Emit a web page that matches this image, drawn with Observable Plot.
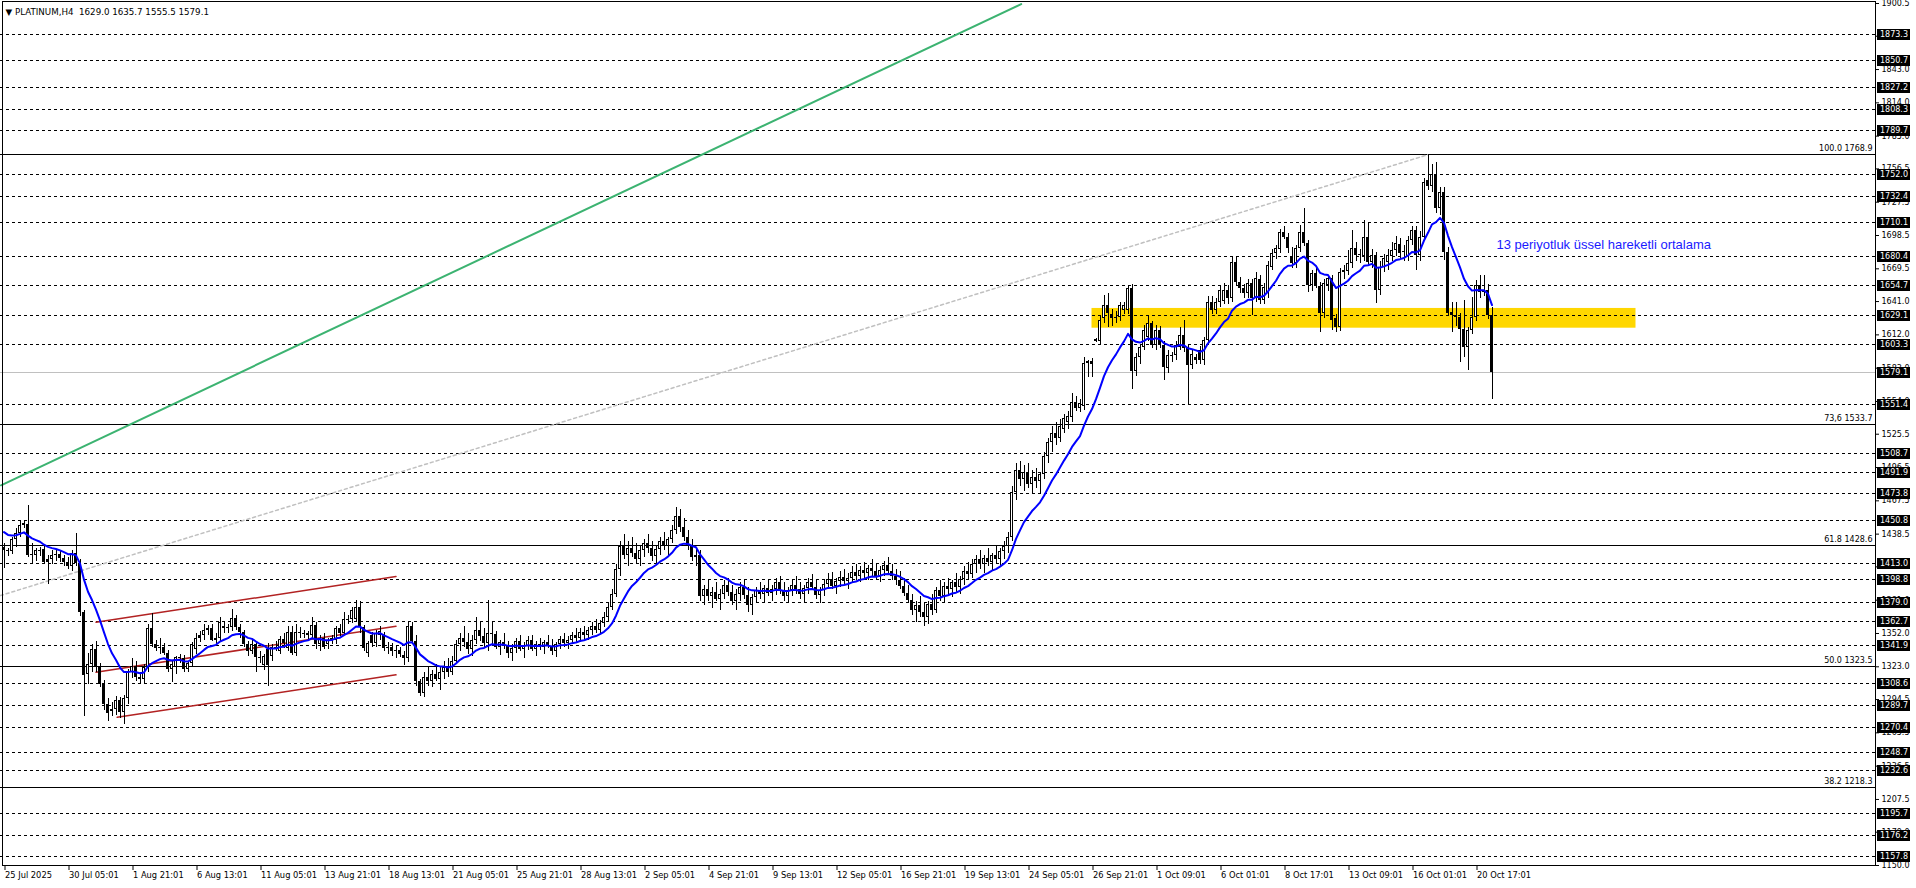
<!DOCTYPE html>
<html><head><meta charset="utf-8">
<script src="https://cdn.jsdelivr.net/npm/d3@7"></script>
<script src="https://cdn.jsdelivr.net/npm/@observablehq/plot@0.6"></script>
<style>
html,body{margin:0;padding:0;background:#fff;overflow:hidden;}
#chart svg{display:block;}
</style></head><body><div id="chart"></div>
<script>
const symbolTitle = "\u25BC PLATINUM,H4  1629.0 1635.7 1555.5 1579.1";

// H4 candles, [open, high, low, close], bar 0 = 25 Jul 2025 13:01
const ohlc = [
/*0*/ [1427,1430,1409,1424],[1424,1426,1419,1423],[1423,1436,1421,1434],[1434,1443,1427,1439],[1439,1450,1436,1446],
/*5*/ [1446,1450,1443,1448],[1447,1463,1418,1420],[1420,1430,1413,1421],[1420,1426,1415,1424],[1424,1427,1419,1423],
/*10*/ [1425,1428,1412,1414],[1414,1420,1395,1416],[1416,1424,1412,1420],[1420,1425,1415,1421],[1421,1424,1414,1417],
/*15*/ [1417,1420,1410,1414],[1414,1418,1408,1410],[1410,1424,1406,1422],[1422,1439,1410,1413],[1413,1416,1367,1370],
/*20*/ [1370,1372,1280,1315],[1316,1335,1308,1325],[1325,1342,1318,1338],[1338,1345,1318,1322],[1322,1326,1305,1308],
/*25*/ [1308,1311,1285,1290],[1290,1295,1275,1282],[1284,1292,1280,1286],[1286,1297,1281,1294],[1294,1296,1278,1283],
/*30*/ [1283,1298,1273,1295],[1295,1321,1290,1318],[1318,1330,1313,1323],[1323,1328,1310,1314],[1314,1318,1308,1312],
/*35*/ [1312,1325,1308,1322],[1322,1360,1318,1356],[1356,1369,1340,1342],[1342,1346,1336,1339],[1339,1348,1334,1340],
/*40*/ [1340,1343,1333,1335],[1335,1337,1318,1321],[1321,1328,1309,1325],[1322,1332,1316,1331],[1331,1334,1326,1330],
/*45*/ [1330,1333,1318,1321],[1321,1328,1318,1326],[1326,1344,1323,1342],[1338,1352,1334,1348],[1348,1354,1344,1350],
/*50*/ [1350,1360,1346,1355],[1355,1359,1350,1356],[1356,1360,1345,1346],[1346,1352,1342,1348],[1348,1366,1344,1362],
/*55*/ [1358,1362,1352,1356],[1356,1360,1352,1357],[1357,1373,1354,1365],[1365,1368,1355,1357],[1357,1360,1348,1353],
/*60*/ [1353,1355,1340,1342],[1342,1345,1332,1336],[1336,1346,1334,1342],[1342,1345,1318,1331],[1331,1336,1326,1330],
/*65*/ [1324,1334,1320,1332],[1338,1343,1306,1324],[1332,1342,1328,1340],[1340,1345,1336,1339],[1336,1349,1334,1347],
/*70*/ [1347,1352,1339,1343],[1339,1358,1336,1353],[1353,1358,1333,1335],[1335,1360,1332,1353],[1353,1357,1348,1352],
/*75*/ [1352,1355,1348,1352],[1352,1354,1347,1350],[1350,1366,1347,1359],[1359,1362,1338,1342],[1342,1350,1336,1348],
/*80*/ [1348,1352,1338,1340],[1342,1348,1338,1346],[1346,1350,1342,1348],[1346,1358,1342,1356],[1356,1360,1349,1352],
/*85*/ [1352,1370,1350,1364],[1364,1368,1360,1364],[1364,1375,1361,1372],[1364,1381,1362,1375],[1375,1380,1352,1357],
/*90*/ [1357,1359,1336,1339],[1335,1345,1331,1343],[1350,1353,1340,1343],[1343,1355,1340,1352],[1350,1358,1346,1354],
/*95*/ [1350,1353,1336,1339],[1339,1344,1334,1340],[1340,1343,1332,1336],[1336,1341,1330,1337],[1337,1340,1331,1334],
/*100*/ [1333,1336,1324,1330],[1330,1362,1327,1358],[1358,1362,1342,1345],[1345,1350,1306,1310],[1310,1312,1297,1300],
/*105*/ [1300,1318,1296,1314],[1314,1322,1306,1310],[1310,1320,1305,1316],[1316,1325,1310,1312],[1312,1322,1302,1318],
/*110*/ [1318,1328,1312,1322],[1322,1330,1314,1318],[1318,1332,1315,1328],[1328,1346,1325,1342],[1342,1352,1336,1348],
/*115*/ [1348,1358,1340,1344],[1344,1352,1334,1338],[1338,1350,1332,1346],[1346,1366,1342,1355],[1355,1362,1345,1349],
/*120*/ [1349,1356,1340,1343],[1343,1381,1336,1352],[1352,1362,1342,1351],[1351,1354,1338,1340],[1340,1346,1333,1344],
/*125*/ [1344,1352,1338,1341],[1341,1345,1330,1335],[1335,1342,1328,1339],[1339,1348,1335,1345],[1345,1350,1336,1338],
/*130*/ [1338,1344,1330,1341],[1341,1349,1337,1346],[1346,1350,1336,1338],[1338,1345,1332,1342],[1342,1348,1337,1340],
/*135*/ [1340,1346,1334,1344],[1344,1350,1339,1341],[1341,1347,1333,1336],[1336,1344,1331,1342],[1342,1349,1338,1347],
/*140*/ [1347,1352,1340,1343],[1343,1349,1338,1346],[1346,1353,1342,1350],[1350,1356,1344,1348],[1348,1356,1344,1353],
/*145*/ [1353,1358,1347,1350],[1350,1357,1346,1355],[1355,1362,1350,1358],[1358,1364,1352,1355],[1355,1363,1351,1361],
/*150*/ [1361,1370,1357,1366],[1366,1378,1362,1375],[1375,1390,1372,1386],[1386,1412,1383,1408],[1408,1432,1402,1428],
/*155*/ [1428,1438,1416,1420],[1420,1432,1410,1426],[1426,1436,1418,1422],[1422,1430,1412,1416],[1416,1428,1410,1424],
/*160*/ [1424,1434,1418,1430],[1430,1438,1422,1426],[1426,1432,1415,1419],[1419,1428,1412,1425],[1425,1436,1420,1432],
/*165*/ [1432,1440,1424,1428],[1428,1436,1420,1434],[1434,1446,1430,1442],[1442,1462,1438,1454],[1454,1460,1440,1444],
/*170*/ [1444,1452,1432,1436],[1436,1442,1424,1428],[1428,1434,1415,1418],[1418,1425,1410,1420],[1420,1424,1380,1384],
/*175*/ [1384,1394,1376,1390],[1390,1398,1380,1384],[1384,1392,1374,1388],[1388,1396,1380,1382],[1382,1390,1372,1386],
/*180*/ [1386,1398,1382,1394],[1394,1400,1384,1388],[1388,1394,1376,1380],[1380,1390,1372,1386],[1386,1396,1380,1392],
/*185*/ [1392,1398,1382,1385],[1385,1392,1370,1376],[1376,1386,1368,1383],[1383,1392,1378,1389],[1389,1396,1382,1386],
/*190*/ [1386,1394,1379,1391],[1391,1398,1384,1387],[1387,1394,1380,1390],[1390,1400,1385,1396],[1396,1402,1386,1389],
/*195*/ [1389,1396,1380,1384],[1384,1392,1378,1389],[1389,1398,1384,1394],[1394,1402,1386,1390],[1390,1396,1382,1386],
/*200*/ [1386,1394,1379,1391],[1391,1400,1386,1396],[1396,1403,1389,1392],[1392,1398,1382,1385],[1385,1392,1378,1389],
/*205*/ [1389,1398,1384,1395],[1395,1404,1390,1399],[1399,1405,1390,1393],[1393,1400,1386,1397],[1397,1406,1392,1401],
/*210*/ [1401,1408,1394,1397],[1397,1404,1390,1400],[1400,1410,1396,1405],[1405,1412,1398,1402],[1402,1410,1396,1407],
/*215*/ [1407,1414,1400,1404],[1404,1411,1398,1409],[1409,1416,1402,1406],[1406,1413,1398,1401],[1401,1410,1396,1407],
/*220*/ [1407,1415,1402,1411],[1411,1418,1403,1406],[1406,1412,1398,1402],[1402,1408,1394,1398],[1398,1406,1390,1393],
/*225*/ [1393,1400,1384,1387],[1387,1394,1378,1381],[1381,1386,1368,1372],[1372,1380,1362,1376],[1376,1384,1366,1370],
/*230*/ [1370,1378,1358,1366],[1366,1380,1360,1377],[1377,1386,1368,1372],[1372,1392,1369,1389],[1389,1398,1380,1384],
/*235*/ [1384,1396,1378,1393],[1393,1400,1385,1390],[1390,1398,1383,1396],[1396,1404,1388,1392],[1392,1402,1386,1399],
/*240*/ [1399,1410,1394,1406],[1406,1414,1398,1403],[1403,1416,1400,1412],[1412,1420,1404,1416],[1416,1424,1408,1412],
/*245*/ [1412,1420,1404,1417],[1417,1426,1410,1414],[1414,1422,1406,1420],[1420,1428,1412,1416],[1416,1426,1410,1423],
/*250*/ [1423,1432,1416,1428],[1428,1440,1422,1436],[1436,1480,1432,1475],[1475,1500,1468,1494],[1494,1502,1480,1486],
/*255*/ [1486,1498,1476,1492],[1492,1500,1478,1482],[1482,1494,1474,1488],[1488,1496,1478,1484],[1484,1492,1474,1490],
/*260*/ [1490,1510,1486,1506],[1506,1522,1500,1518],[1518,1532,1510,1526],[1526,1536,1516,1522],[1522,1538,1518,1532],
/*265*/ [1530,1543,1526,1539],[1536,1545,1530,1541],[1540,1561,1536,1553],[1553,1558,1545,1548],[1548,1556,1544,1552],
/*270*/ [1550,1592,1546,1587],[1587,1590,1575,1589],[1589,1591,1575,1586],[1606,1609,1605,1608],[1606,1628,1603,1624.5],
/*275*/ [1626,1646,1622,1637.6],[1637.6,1647.8,1618.7,1630.3],[1630,1634,1619,1626],[1627,1632,1622,1626],[1627,1640,1624,1637.6],
/*280*/ [1633,1640,1630,1637.6],[1633,1654,1630,1652],[1652,1656,1564,1580],[1580,1596,1576,1592.6],[1592.6,1604,1586,1601.3],
/*285*/ [1601,1620,1598,1615.8],[1610,1628,1606,1621.6],[1621.6,1624,1600,1602.8],[1602.8,1620,1598,1615.8],[1615.8,1619,1600,1602.8],
/*290*/ [1602.8,1606,1572,1584],[1582.4,1598,1578,1594],[1594,1597,1588,1593],[1594,1606,1590,1602.8],[1601.3,1618.7,1598,1611.4],
/*295*/ [1611.4,1624.5,1597,1600],[1600,1603,1550.5,1585.3],[1585,1599,1582,1595],[1590,1595,1586,1592],[1598,1602,1586,1589.7],
/*300*/ [1589.7,1610,1585,1607.1],[1607,1645,1604,1640.4],[1640.4,1645,1630,1633.2],[1633.2,1644,1630,1640.4],[1640.4,1654,1636,1650.6],
/*305*/ [1641,1656.4,1638,1650.6],[1650.6,1655,1638,1643.3],[1643.3,1680,1640,1675.3],[1675.3,1680,1655,1658],[1658,1662,1648,1652],
/*310*/ [1652,1656,1644,1647.8],[1647.8,1660,1644,1657],[1657,1660,1629,1643.4],[1643.4,1666,1640,1660.8],[1660,1664,1638,1642],
/*315*/ [1642,1657,1638,1653.5],[1648,1676,1644,1672.4],[1671,1686,1668,1682.6],[1682.6,1690,1678,1686.9],[1686,1704,1683,1701.4],
/*320*/ [1701.4,1706,1695,1697],[1697,1700,1683,1687],[1680,1688,1670,1674],[1674,1690,1670,1687],[1687,1707,1684,1701.4],
/*325*/ [1701.4,1721.7,1689,1691.3],[1691.3,1694,1649,1655],[1655,1668,1650,1665],[1665,1670,1652,1654],[1654,1658,1614,1630.3],
/*330*/ [1630.3,1660,1626,1656.4],[1655,1664,1650,1661],[1661,1664,1616,1624.5],[1626,1630,1614,1618.7],[1618.7,1670,1615,1666.6],
/*335*/ [1666,1672,1660,1668],[1667,1685.5,1664,1674],[1674,1703,1670,1687],[1687,1692,1676,1681],[1681,1686,1674,1682],
/*340*/ [1680,1712,1676,1697],[1697,1710,1672,1675.3],[1675.3,1686,1670,1681],[1681,1684,1639,1650.6],[1650.6,1676,1646,1671],
/*345*/ [1671,1682,1666,1678.2],[1675,1686,1668,1681],[1680,1692,1676,1685.5],[1685.5,1698,1680,1691.3],[1691,1696,1678,1682.6],
/*350*/ [1684,1690,1676,1685],[1680,1698,1676,1694.2],[1694,1706,1690,1703],[1703,1706,1668,1681],[1681,1702,1676,1697],
/*355*/ [1697,1748,1694,1745],[1746,1768.9,1738,1741],[1741,1760,1736,1752],[1752,1762,1718,1722],[1722,1740,1716,1736],
/*360*/ [1736,1740,1677,1684],[1684,1688,1628,1630.3],[1631.7,1640,1614,1628.9],[1629,1640,1619,1627.5],[1627.5,1631,1588,1617],
/*365*/ [1617,1642,1592.6,1601.3],[1601.3,1618,1581,1615.8],[1615.8,1644.8,1612,1627.4],[1627.4,1659,1624,1655],[1655,1663.7,1644,1649],
/*370*/ [1649,1664,1645,1651],[1651,1656,1625,1629],[1629.0,1635.7,1555.5,1579.1]
];

const emaPeriod = 13;
const emaSeed = 1443;          // EMA value just before bar 0

const timeLabels = ["25 Jul 2025","30 Jul 05:01","1 Aug 21:01","6 Aug 13:01","11 Aug 05:01","13 Aug 21:01",
  "18 Aug 13:01","21 Aug 05:01","25 Aug 21:01","28 Aug 13:01","2 Sep 05:01","4 Sep 21:01","9 Sep 13:01",
  "12 Sep 05:01","16 Sep 21:01","19 Sep 13:01","24 Sep 05:01","26 Sep 21:01","1 Oct 09:01","6 Oct 01:01",
  "8 Oct 17:01","13 Oct 09:01","16 Oct 01:01","20 Oct 17:01"];
const timeLabelStep = 16;      // bars between time labels

const priceTicks = [1900.5,1872.0,1843.0,1814.0,1785.0,1756.5,1727.5,1698.5,1669.5,1641.0,1612.0,1583.0,1554.0,
  1525.5,1496.5,1467.5,1438.5,1410.0,1381.0,1352.0,1323.0,1294.5,1265.5,1236.5,1207.5,1179.0,1150.0];

const dashedLevels = [1873.3,1850.7,1827.2,1808.3,1789.7,1752.0,1732.4,1710.1,1680.4,1654.7,1629.1,1603.3,1551.4,
  1508.7,1491.9,1473.8,1450.8,1413.0,1398.8,1379.0,1362.7,1341.9,1308.6,1289.7,1270.4,1248.7,1232.6,1195.7,1176.2,1157.8];
const fibLevels = [1768.9,1533.7,1428.6,1323.5,1218.3];
const fibNames = ["100.0","73,6","61.8","50.0","38.2"];
const bidPrice = 1579.1;

const greenTrend = [[-0.75,1481],[254.3,1900]];
const grayTrend = [[-0.9,1385],[356,1768.9]];
const redTop = [[23,1361.8],[98,1401.6]];
const redMid = [[23,1318.3],[98,1358.4]];
const redBottom = [[28.3,1279],[98,1316]];
const yellowZone = [272,408,1617.8,1635.0];   // bar from, bar to, price low, price high
const noteText = "13 periyotluk \u00fcssel hareketli ortalama";
const notePos = [373.1,1690.7];

// ---------- build ----------
const bars = ohlc.map(([o,h,l,c],i)=>({i,o,h,l,c,up:c>=o}));
const k = 2/(emaPeriod+1);
let e = emaSeed;
const ema = bars.map(b => { e = b.c*k + e*(1-k); return {i:b.i, v:e}; });
const pts = arr => arr.map(([x,y])=>({x,y}));
const fibs = fibLevels.map((v,j)=>({v, label: fibNames[j]+" "+v.toFixed(1)}));
const timeTicks = timeLabels.map((_,j)=>j*timeLabelStep);
const font = "DejaVu Sans, Tahoma, sans-serif";

const priceBoxes = (index, scales, values, dims) => {
  const g = d3.create("svg:g").attr("font-family", font).attr("font-size", 8).attr("text-anchor", "start");
  const x0 = dims.width - dims.marginRight + 2;
  for (const v of [...dashedLevels, bidPrice]) {
    const y = Math.round(scales.y(v));
    g.append("rect").attr("x", x0).attr("y", y-5).attr("width", 33).attr("height", 11).attr("fill", "#000");
    g.append("text").attr("x", x0+3).attr("y", y+0.5).attr("dy", "0.35em").attr("fill", "#fff").text(v.toFixed(1));
  }
  return g.node();
};

const chart = Plot.plot({
  width: 1916, height: 888,
  marginLeft: 0, marginRight: 41, marginTop: 3, marginBottom: 23,
  style: {fontFamily: font, fontSize: "8px", background: "#fff", color: "#000"},
  x: {type: "linear", domain: [-0.875, 467.875]},
  y: {type: "linear", domain: [1150, 1900.5]},
  marks: [
    Plot.rect([yellowZone], {x1: d=>d[0], x2: d=>d[1], y1: d=>d[2], y2: d=>d[3], fill: "#FFD700", clip: true}),
    Plot.ruleY(dashedLevels, {stroke: "#000", strokeDasharray: "3,3", shapeRendering: "crispEdges"}),
    Plot.ruleY([bidPrice], {stroke: "#c0c0c0", shapeRendering: "crispEdges"}),
    Plot.ruleY(fibs, {y: "v", stroke: "#000", shapeRendering: "crispEdges"}),
    Plot.text(fibs, {y: "v", text: "label", frameAnchor: "right", textAnchor: "end", dx: -3, dy: -6, fontSize: 8, fill: "#000"}),
    Plot.line(pts(greenTrend), {x: "x", y: "y", stroke: "#3cb371", strokeWidth: 2, clip: true}),
    Plot.line(pts(grayTrend), {x: "x", y: "y", stroke: "#c0c0c0", strokeDasharray: "3,3", clip: true}),
    Plot.line(pts(redTop), {x: "x", y: "y", stroke: "#b22222", clip: true}),
    Plot.line(pts(redMid), {x: "x", y: "y", stroke: "#b22222", clip: true}),
    Plot.line(pts(redBottom), {x: "x", y: "y", stroke: "#b22222", clip: true}),
    Plot.ruleX(bars, {x: "i", y1: "l", y2: "h", stroke: "#000", shapeRendering: "crispEdges"}),
    Plot.rect(bars, {x1: d=>d.i-0.375, x2: d=>d.i+0.375, y1: "o", y2: "c", fill: "#000", inset: 0, shapeRendering: "crispEdges"}),
    Plot.rect(bars.filter(b=>b.up && b.c-b.o > 2), {x1: d=>d.i-0.375, x2: d=>d.i+0.375, y1: "o", y2: "c", fill: "#fff", inset: 1, shapeRendering: "crispEdges"}),
    Plot.ruleY(bars.filter(b=>Math.abs(b.c-b.o) < 1), {x1: d=>d.i-0.375, x2: d=>d.i+0.375, y: "c", stroke: "#000", shapeRendering: "crispEdges"}),
    Plot.line(ema, {x: "i", y: "v", stroke: "#0000ff", strokeWidth: 2}),
    Plot.text([noteText], {x: notePos[0], y: notePos[1], textAnchor: "start", fill: "#1a1aff", fontSize: 13, fontFamily: "Liberation Sans, Arial, sans-serif"}),
    Plot.text([symbolTitle], {frameAnchor: "top-left", dx: 5, dy: 9, lineAnchor: "middle", textAnchor: "start", fontSize: 8.7, fill: "#000"}),
    Plot.frame({stroke: "#000", insetTop: -2, insetLeft: 1.5, shapeRendering: "crispEdges"}),
    Plot.axisY(priceTicks, {anchor: "right", tickSize: 3, tickPadding: 3, tickFormat: d=>d.toFixed(1), label: null, fontSize: 8}),
    Plot.axisX(timeTicks, {anchor: "bottom", tickSize: 5, tickPadding: 2, tickFormat: d=>timeLabels[d/timeLabelStep], textAnchor: "start", dx: 1, label: null, fontSize: 8.3}),
    priceBoxes
  ]
});
document.getElementById("chart").append(chart);
</script>
</body></html>
